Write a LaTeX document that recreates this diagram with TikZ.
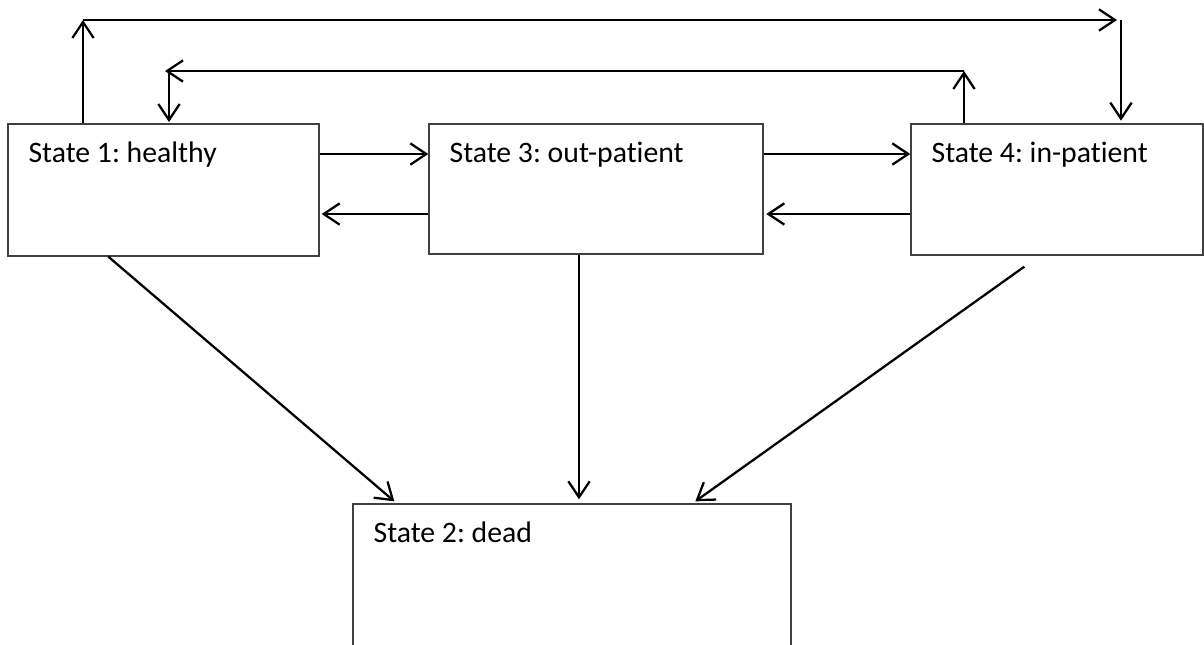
\documentclass[tikz,border=0pt]{standalone}
\usepackage{fontspec}
\setmainfont[Ligatures={NoCommon}]{Carlito}
\usepackage{tikz}
\usetikzlibrary{arrows.meta, positioning, calc}
\definecolor{boxline}{HTML}{404040}
\frenchspacing
\newcommand{\stlabel}[1]{{\fontsize{22.3}{27}\selectfont #1}}

\begin{document}
\begin{tikzpicture}[
  x=0.75pt, y=-0.75pt,
  state/.style={draw=boxline, line width=1pt, rectangle, inner sep=0pt},
  stname/.style={anchor=base west, inner sep=0pt, xshift=15.75pt, yshift=-29.25pt},
  arr/.style={-{Straight Barb[length=12pt, width=16pt]}, line width=1.7pt, black}
]
\useasboundingbox (0,0) rectangle (1204,644);
\clip (0,0) rectangle (1204,644);

% states
\node[state, minimum width=233.25pt, minimum height=99pt] (healthy) at (163.5,190) {};
\node[state, minimum width=250.5pt, minimum height=97.5pt] (outpat) at (596,189) {};
\node[state, minimum width=219pt, minimum height=98.25pt] (inpat) at (1057,189.5) {};
\node[state, minimum width=328.5pt, minimum height=117pt] (dead) at (572,582) {};

\node[stname] at (healthy.north west) {\stlabel{State 1: healthy}};
\node[stname] at (outpat.north west) {\stlabel{State 3: out-patient}};
\node[stname] at (inpat.north west) {\stlabel{State 4: in-patient}};
\node[stname] at (dead.north west) {\stlabel{State 2: dead}};

% corners of the long loops
\coordinate (topL) at (83,20);
\coordinate (topR) at (1121,20);
\coordinate (midR) at (964,71);
\coordinate (midL) at (165,71);
\coordinate (midD) at (169,71);
\coordinate (fwd) at (0,154);
\coordinate (bwd) at (0,214);
\coordinate (midx) at (579,0);

% healthy -> in-patient, over the top
\draw[arr] (topL |- healthy.north) -- (topL);
\draw[arr, shorten >=3pt] (topL) -- (topR);
\draw[arr, shorten >=2pt] (topR) -- (topR |- inpat.north);

% in-patient -> healthy
\draw[arr] (midR |- inpat.north) -- (midR);
\draw[arr] (midR) -- (midL);
\draw[arr, shorten >=1pt] (midD) -- (midD |- healthy.north);

% side by side
\draw[arr] (healthy.east |- fwd) -- (outpat.west |- fwd);
\draw[arr] (outpat.east |- fwd) -- (inpat.west |- fwd);
\draw[arr, shorten >=1.5pt] (outpat.west |- bwd) -- (healthy.east |- bwd);
\draw[arr, shorten >=2pt] (inpat.west |- bwd) -- (outpat.east |- bwd);

% to dead
\draw[arr] ($(healthy.south west)+(101,0)$) -- ($(dead.north west)+(42,-2)$);
\draw[arr, shorten >=3pt] (midx |- outpat.south) -- (midx |- dead.north);
\draw[arr] ($(inpat.south west)+(114,11)$) -- ($(dead.north west)+(343,-2)$);
\end{tikzpicture}
\end{document}
